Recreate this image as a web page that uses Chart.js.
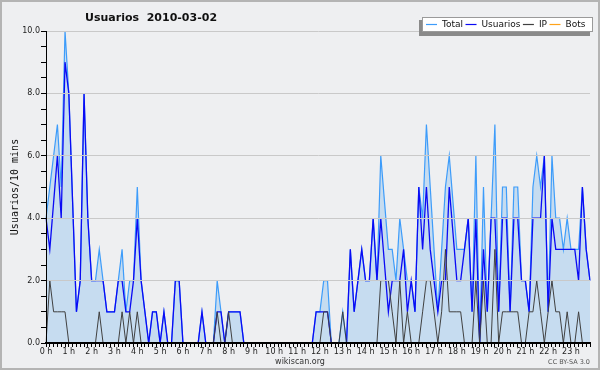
<!DOCTYPE html>
<html>
<head>
<meta charset="utf-8">
<title>Usuarios 2010-03-02</title>
<script src="https://cdn.jsdelivr.net/npm/chart.js@4.4.1/dist/chart.umd.min.js"></script>
<style>
  html, body { margin: 0; padding: 0; background: #eeeff1; }
  #wrap { width: 600px; height: 370px; }
</style>
</head>
<body>
<div id="wrap"><canvas id="myChart" width="600" height="370"></canvas></div>
<script>
// one point every 10 minutes, 144 per day
const hourLabels = ['0 h', '1 h', '2 h', '3 h', '4 h', '5 h', '6 h', '7 h', '8 h', '9 h', '10 h', '11 h',
  '12 h', '13 h', '14 h', '15 h', '16 h', '17 h', '18 h', '19 h', '20 h', '21 h', '22 h', '23 h'];

const totalValues = [
  4, 5, 6, 7, 5, 10, 8, 4.5, 1, 2, 8, 4,
  2, 2, 3, 2, 1, 1, 1, 2, 3, 1, 2, 2,
  5, 2, 1, 0, 1, 1, 0, 1, 0, 0, 2, 2,
  0, 0, 0, 0, 0, 1, 0, 0, 0, 2, 1, 0,
  1, 1, 1, 1, 0, 0, 0, 0, 0, 0, 0, 0,
  0, 0, 0, 0, 0, 0, 0, 0, 0, 0, 0, 1,
  1, 2, 2, 0, 0, 0, 1, 0, 3, 1, 2, 3,
  2, 2, 4, 2, 6, 4.5, 3, 3, 2, 4, 3, 2,
  2, 1, 5, 4, 7, 5, 3, 1, 3, 5, 6, 4.5,
  3, 3, 3, 4, 1, 6, 0, 5, 1, 4, 7, 1,
  5, 5, 1, 5, 5, 2, 2, 1, 5, 6, 5, 6,
  1, 6, 4, 4, 3, 4, 3, 3, 3, 5, 3, 2
];

const userValues = [
  4, 3, 4.5, 6, 4, 9, 8, 4.5, 1, 2, 8, 4,
  2, 2, 2, 2, 1, 1, 1, 2, 2, 1, 1, 2,
  4, 2, 1, 0, 1, 1, 0, 1, 0, 0, 2, 2,
  0, 0, 0, 0, 0, 1, 0, 0, 0, 1, 1, 0,
  1, 1, 1, 1, 0, 0, 0, 0, 0, 0, 0, 0,
  0, 0, 0, 0, 0, 0, 0, 0, 0, 0, 0, 1,
  1, 1, 1, 0, 0, 0, 0, 0, 3, 1, 2, 3,
  2, 2, 4, 2, 4, 2.5, 1, 2, 2, 2, 3, 1,
  2, 1, 5, 3, 5, 3, 2, 1, 2, 2, 5, 3.5,
  2, 2, 3, 4, 1, 4, 0, 3, 1, 4, 4, 1,
  4, 4, 1, 4, 4, 2, 2, 1, 4, 4, 4, 6,
  1, 4, 3, 3, 3, 3, 3, 3, 2, 5, 3, 2
];

const ipValues = [
  0, 2, 1, 1, 1, 1, 0, 0, 0, 0, 0, 0,
  0, 0, 1, 0, 0, 0, 0, 0, 1, 0, 1, 0,
  1, 0, 0, 0, 0, 0, 0, 0, 0, 0, 0, 0,
  0, 0, 0, 0, 0, 0, 0, 0, 0, 1, 0, 0,
  1, 0, 0, 0, 0, 0, 0, 0, 0, 0, 0, 0,
  0, 0, 0, 0, 0, 0, 0, 0, 0, 0, 0, 0,
  0, 1, 1, 0, 0, 0, 1, 0, 0, 0, 0, 0,
  0, 0, 0, 0, 2, 2, 2, 1, 0, 2, 0, 1,
  0, 0, 0, 1, 2, 2, 1, 0, 1, 3, 1, 1,
  1, 1, 0, 0, 0, 2, 0, 2, 0, 0, 3, 0,
  1, 1, 1, 1, 1, 0, 0, 1, 1, 2, 1, 0,
  1, 2, 1, 1, 0, 1, 0, 0, 1, 0, 0, 0
];

const botValues = [
  0, 0, 0, 0, 0, 0, 0, 0, 0, 0, 0, 0,
  0, 0, 0, 0, 0, 0, 0, 0, 0, 0, 0, 0,
  0, 0, 0, 0, 0, 0, 0, 0, 0, 0, 0, 0,
  0, 0, 0, 0, 0, 0, 0, 0, 0, 0, 0, 0,
  0, 0, 0, 0, 0, 0, 0, 0, 0, 0, 0, 0,
  0, 0, 0, 0, 0, 0, 0, 0, 0, 0, 0, 0,
  0, 0, 0, 0, 0, 0, 0, 0, 0, 0, 0, 0,
  0, 0, 0, 0, 0, 0, 0, 0, 0, 0, 0, 0,
  0, 0, 0, 0, 0, 0, 0, 0, 0, 0, 0, 0,
  0, 0, 0, 0, 0, 0, 0, 0, 0, 0, 0, 0,
  0, 0, 0, 0, 0, 0, 0, 0, 0, 0, 0, 0,
  0, 0, 0, 0, 0, 0, 0, 0, 0, 0, 0, 0
];

// category labels hh:mm for every 10 min slot
const slotLabels = [];
for (let h = 0; h < 24; h++) {
  for (let m = 0; m < 60; m += 10) {
    slotLabels.push(h + ':' + (m < 10 ? '0' + m : m));
  }
}

const FONT = 'DejaVu Sans';

// background, frame, title, legend box and footer texts
const decorations = {
  id: 'decorations',
  beforeDraw(chart) {
    const c = chart.ctx;
    c.save();
    c.fillStyle = '#eeeff1';
    c.fillRect(0, 0, chart.width, chart.height);
    c.strokeStyle = '#b4b4b4';
    c.lineWidth = 2;
    c.strokeRect(1, 1, chart.width - 2, chart.height - 2);
    c.restore();
  },
  afterDraw(chart) {
    const c = chart.ctx;
    c.save();
    // title
    c.fillStyle = '#111';
    c.font = 'bold 11px "' + FONT + '"';
    c.textBaseline = 'alphabetic';
    c.textAlign = 'left';
    c.fillText('Usuarios  2010-03-02', 85, 20.5);

    // legend with shadow
    c.fillStyle = '#8a8a8a';
    c.fillRect(419, 20, 171, 16);
    c.fillStyle = '#ffffff';
    c.fillRect(422, 17, 171, 15);
    c.strokeStyle = '#9a9a9a';
    c.lineWidth = 1;
    c.strokeRect(422.5, 17.5, 170, 14);
    c.font = '9px "' + FONT + '"';
    c.textBaseline = 'middle';
    let x = 426;
    chart.data.datasets.forEach(ds => {
      c.strokeStyle = ds.borderColor;
      c.lineWidth = 1.2;
      c.beginPath();
      c.moveTo(x, 24.5);
      c.lineTo(x + 11, 24.5);
      c.stroke();
      c.fillStyle = '#111';
      c.fillText(ds.label, x + 16, 25);
      x += 16 + c.measureText(ds.label).width + 2.5;
    });

    // footer
    c.font = '8px "' + FONT + '"';
    c.fillStyle = '#333';
    c.textAlign = 'center';
    c.fillText('wikiscan.org', 300, 362);
    c.font = '6.5px "' + FONT + '"';
    c.fillStyle = '#555';
    c.textAlign = 'right';
    c.fillText('CC BY-SA 3.0', 590, 362);
    c.restore();
  }
};

window.addEventListener('load', function () {
  const ctx = document.getElementById('myChart').getContext('2d');
  const myChart = new Chart(ctx, {
    type: 'line',
    data: {
      labels: slotLabels,
      datasets: [{
        label: 'Total',
        data: totalValues,
        borderColor: '#3d9cfa',
        backgroundColor: '#c6dcf0',
        borderWidth: 1.2,
        fill: 'origin',
        order: 3
      }, {
        label: 'Usuarios',
        data: userValues,
        borderColor: '#0a0af5',
        borderWidth: 1.3,
        fill: false,
        order: 2
      }, {
        label: 'IP',
        data: ipValues,
        borderColor: '#404040',
        borderWidth: 1,
        fill: false,
        order: 1
      }, {
        label: 'Bots',
        data: botValues,
        borderColor: '#ffa31a',
        borderWidth: 1,
        fill: false,
        order: 4
      }]
    },
    options: {
      responsive: false,
      animation: false,
      devicePixelRatio: 1,
      layout: { padding: { left: 0, top: 31, right: 10, bottom: 0 } },
      elements: {
        point: { radius: 0, hoverRadius: 0 },
        line: { tension: 0 }
      },
      plugins: {
        legend: { display: false },
        title: { display: false },
        tooltip: { enabled: false }
      },
      scales: {
        x: {
          type: 'category',
          offset: false,
          afterFit: s => { s.height = 27; },
          border: { display: true, color: '#000', width: 2, z: 1 },
          grid: {
            display: true,
            drawOnChartArea: false,
            drawTicks: true,
            tickLength: 4,
            tickColor: '#000',
            tickWidth: 1
          },
          ticks: {
            autoSkip: false,
            maxRotation: 0,
            minRotation: 0,
            padding: 0,
            color: '#222',
            font: { family: FONT, size: 8 },
            callback: (v, i) => (i % 6 === 0 ? hourLabels[i / 6] : '')
          }
        },
        y: {
          min: 0,
          max: 10,
          afterFit: s => { s.width = 46; },
          border: { display: true, color: '#000', width: 1, z: 1 },
          grid: {
            z: 1,
            color: c => (c.tick && c.tick.value % 2 === 0 && c.tick.value > 0 ? '#c9c9c9' : 'rgba(0,0,0,0)'),
            tickColor: '#000',
            tickLength: 5,
            lineWidth: 1
          },
          ticks: {
            stepSize: 0.5,
            autoSkip: false,
            padding: 1,
            color: '#222',
            font: { family: FONT, size: 8 },
            callback: v => (v % 2 === 0 ? v.toFixed(1) : '')
          },
          title: {
            display: true,
            text: 'Usuarios/10 mins',
            color: '#111',
            padding: { top: 9, bottom: 0 },
            font: { family: 'DejaVu Sans Mono', size: 10 }
          }
        }
      }
    },
    plugins: [decorations]
  });
});
</script>
</body>
</html>
